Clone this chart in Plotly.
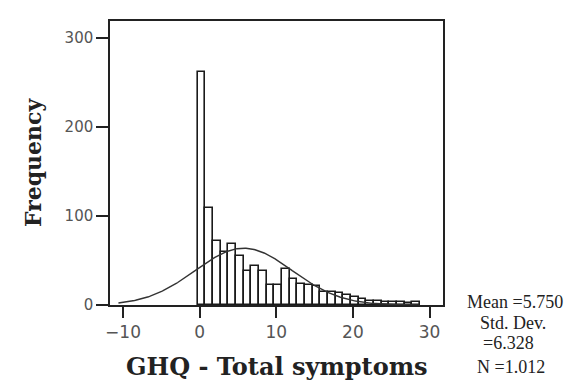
import numpy as np
import plotly.graph_objects as go

# GHQ total symptom scores and frequencies
scores = list(range(0, 29))
freqs = [262, 109, 72, 59, 68, 55, 38, 44, 38, 22, 22, 41, 29, 24, 23, 21,
         15, 15, 13, 11, 9, 7, 5, 4, 3, 3, 3, 2, 3]

# Summary statistics shown beside the chart
mean_val = 5.750
sd_val = 6.328
n_val = 1012

x_ticks = [-10, 0, 10, 20, 30]
y_ticks = [0, 100, 200, 300]

# Normal curve implied by the displayed statistics (bin width 1)
xc = np.linspace(-10.6, 28.6, 300)
yc = n_val / (sd_val * np.sqrt(2 * np.pi)) * np.exp(-0.5 * ((xc - mean_val) / sd_val) ** 2)

fig = go.Figure()
fig.add_trace(go.Bar(
    x=scores, y=freqs, width=1, offset=-0.25,
    marker=dict(color="white", line=dict(color="#1a1a1a", width=1.6)),
    showlegend=False, hoverinfo="skip",
))
fig.add_trace(go.Scatter(
    x=xc, y=yc, mode="lines",
    line=dict(color="#333333", width=1.4),
    showlegend=False, hoverinfo="skip",
))

tickfont = dict(family="DejaVu Sans", color="#555555")
fig.update_layout(
    width=578, height=383,
    margin=dict(l=102, r=143, t=13, b=86),
    paper_bgcolor="white", plot_bgcolor="white",
    bargap=0,
    xaxis=dict(range=[-11.7, 31.76], tickvals=x_ticks, ticks="outside", ticklen=11,
               tickwidth=1.5, tickcolor="#222", showline=True, linecolor="#222",
               linewidth=1.5, mirror=True, showgrid=False, zeroline=False,
               tickfont=dict(size=17, **tickfont)),
    yaxis=dict(range=[0, 319], tickvals=y_ticks, ticks="outside", ticklen=12,
               tickwidth=1.5, tickcolor="#222", showline=True, linecolor="#222",
               linewidth=1.5, mirror=True, showgrid=False, zeroline=False,
               tickfont=dict(size=15, **tickfont)),
    annotations=[
        dict(text="<b>Frequency</b>", textangle=-90, xref="paper", yref="paper",
             x=-0.231, y=0.5035, xanchor="center", yanchor="middle", showarrow=False,
             font=dict(family="DejaVu Serif", size=22, color="#222")),
        dict(text="<b>GHQ - Total symptoms</b>", xref="paper", yref="paper",
             x=0.5015, y=-0.215, xanchor="center", yanchor="middle", showarrow=False,
             font=dict(family="DejaVu Serif", size=24, color="#222")),
        dict(text="Mean =5.750", xref="paper", yref="paper", x=1.066, y=0.012,
             xanchor="left", yanchor="middle", showarrow=False,
             font=dict(family="Liberation Serif", size=18, color="#222")),
        dict(text="Std. Dev.", xref="paper", yref="paper", x=1.105, y=-0.063,
             xanchor="left", yanchor="middle", showarrow=False,
             font=dict(family="Liberation Serif", size=18, color="#222")),
        dict(text="=6.328", xref="paper", yref="paper", x=1.114, y=-0.134,
             xanchor="left", yanchor="middle", showarrow=False,
             font=dict(family="Liberation Serif", size=18, color="#222")),
        dict(text="N =1.012", xref="paper", yref="paper", x=1.096, y=-0.218,
             xanchor="left", yanchor="middle", showarrow=False,
             font=dict(family="Liberation Serif", size=18, color="#222")),
    ],
)

fig.write_html("out.html")
